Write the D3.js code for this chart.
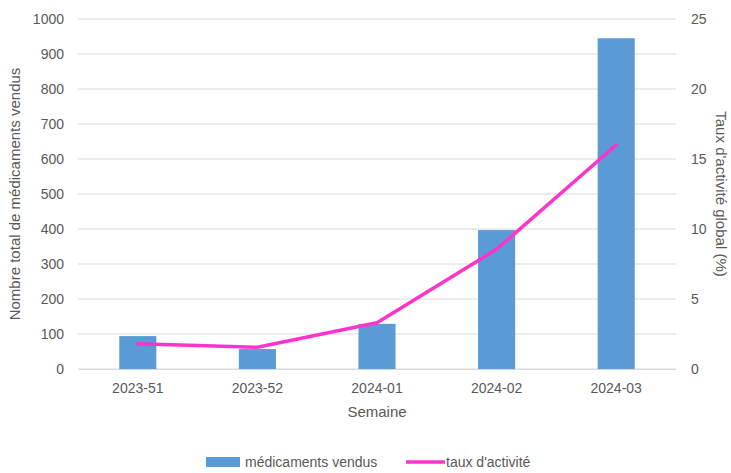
<!DOCTYPE html>
<html>
<head>
<meta charset="utf-8">
<script src="https://cdn.jsdelivr.net/npm/d3@7"></script>
<style>
  body { margin: 0; background: #fff; }
  text { font-family: "Liberation Sans", Arial, sans-serif; fill: #595959; }
</style>
</head>
<body>
<svg id="chart" width="731" height="473"></svg>
<script>
// Weekly sales of medications and overall activity rate
const weeks = ["2023-51", "2023-52", "2024-01", "2024-02", "2024-03"];
const medsSold = [94, 57, 129, 397, 945];
const activityRate = [1.8, 1.55, 3.3, 8.55, 16.0];
const leftTicks = [0, 100, 200, 300, 400, 500, 600, 700, 800, 900, 1000];
const rightTicks = [0, 5, 10, 15, 20, 25];

const svg = d3.select("#chart");
const m = { left: 78, right: 676, top: 19, bottom: 369 };

const x = d3.scaleBand().domain(weeks).range([m.left, m.right]).paddingInner(0.69).paddingOuter(0.345);
const xc = d3.scaleBand().domain(weeks).range([m.left, m.right]);
const yL = d3.scaleLinear().domain([0, 1000]).range([m.bottom, m.top]);
const yR = d3.scaleLinear().domain([0, 25]).range([m.bottom, m.top]);

// gridlines
svg.append("g").selectAll("line").data(leftTicks).join("line")
  .attr("x1", m.left).attr("x2", m.right)
  .attr("y1", d => yL(d)).attr("y2", d => yL(d))
  .attr("stroke", "#D9D9D9").attr("stroke-width", 1);

// left axis
const axL = svg.append("g").attr("transform", `translate(${m.left - 14},0)`)
  .call(d3.axisLeft(yL).tickValues(leftTicks).tickFormat(d3.format("d")).tickSize(0).tickPadding(0));
axL.select(".domain").remove();
axL.selectAll("text").attr("font-size", 14).attr("dy", "0.35em");

// right axis
const axR = svg.append("g").attr("transform", `translate(${m.right + 15},0)`)
  .call(d3.axisRight(yR).tickValues(rightTicks).tickFormat(d3.format("d")).tickSize(0).tickPadding(0));
axR.select(".domain").remove();
axR.selectAll("text").attr("font-size", 14).attr("dy", "0.35em");

// bars
svg.append("g").selectAll("rect").data(weeks).join("rect")
  .attr("x", d => x(d)).attr("width", x.bandwidth())
  .attr("y", (d, i) => yL(medsSold[i]))
  .attr("height", (d, i) => yL(0) - yL(medsSold[i]))
  .attr("fill", "#5B9BD5");

// x axis
const axX = svg.append("g").attr("transform", `translate(0,${m.bottom})`)
  .call(d3.axisBottom(xc).tickSize(0).tickPadding(14));
axX.select(".domain").attr("stroke", "#D9D9D9");
axX.selectAll("text").attr("font-size", 14);

// line
const line = d3.line().x((d, i) => xc(weeks[i]) + xc.bandwidth() / 2).y(d => yR(d));
svg.append("path").datum(activityRate).attr("d", line)
  .attr("fill", "none").attr("stroke", "#FF33CC").attr("stroke-width", 3.5)
  .attr("stroke-linejoin", "round").attr("stroke-linecap", "round");

// axis titles
svg.append("text").attr("transform", `translate(20,${(m.top + m.bottom) / 2}) rotate(-90)`)
  .attr("text-anchor", "middle").attr("font-size", 15).text("Nombre total de médicaments vendus");
svg.append("text").attr("transform", `translate(716,${(m.top + m.bottom) / 2}) rotate(90)`)
  .attr("text-anchor", "middle").attr("font-size", 15).text("Taux d'activité global (%)");
svg.append("text").attr("x", (m.left + m.right) / 2).attr("y", 417)
  .attr("text-anchor", "middle").attr("font-size", 15).text("Semaine");

// legend
const lg = svg.append("g");
lg.append("rect").attr("x", 206).attr("y", 457).attr("width", 34).attr("height", 10).attr("fill", "#5B9BD5");
lg.append("text").attr("x", 245).attr("y", 467).attr("font-size", 14).text("médicaments vendus");
lg.append("line").attr("x1", 406).attr("x2", 445).attr("y1", 462).attr("y2", 462)
  .attr("stroke", "#FF33CC").attr("stroke-width", 3.5);
lg.append("text").attr("x", 446).attr("y", 467).attr("font-size", 14).text("taux d'activité");
</script>
</body>
</html>
